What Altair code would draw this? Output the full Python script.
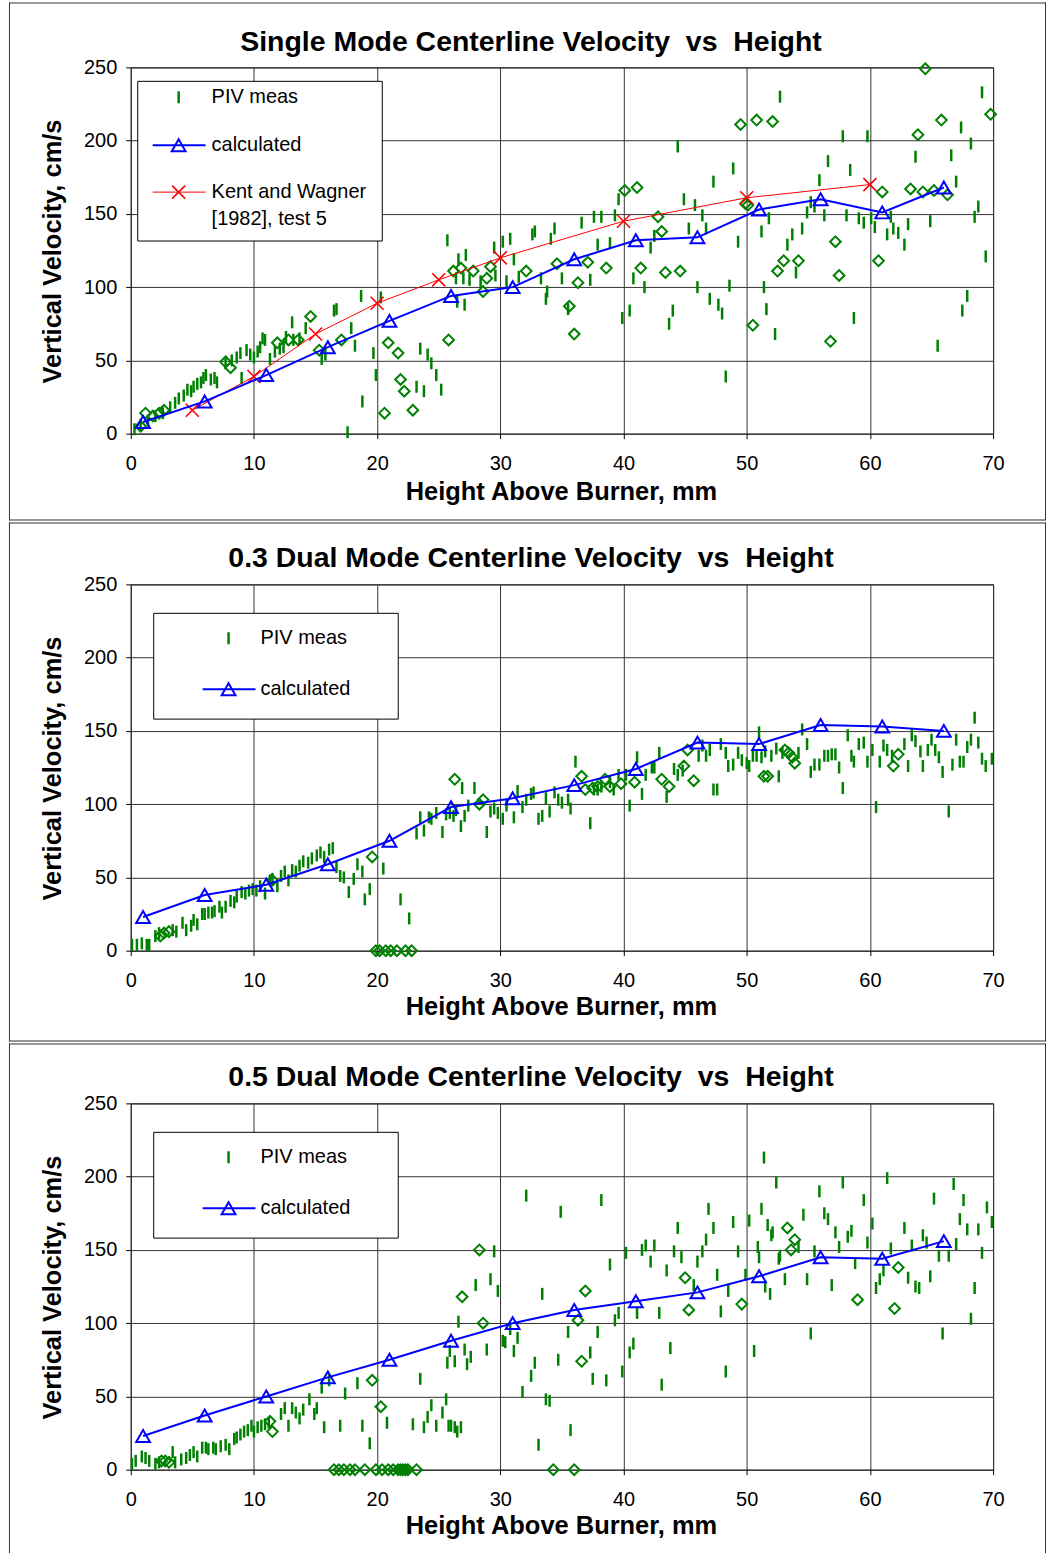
import altair as alt
import pandas as pd

FONT = "Liberation Sans"
GREEN = "#008000"
BLUE = "#0000FF"
RED = "#FF0000"

# ---------------- data ----------------
calc_x = [1, 6, 11, 16, 21, 26, 31, 36, 41, 46, 51, 56, 61, 66]
p1_calc_y = [8, 22, 40, 59, 77, 94, 100, 119, 132, 134, 153, 160, 151, 168]
p2_calc_y = [23, 38, 45, 59, 75, 98, 104, 113, 124, 142, 141, 154, 153, 150]
p3_calc_y = [23, 37, 50, 63, 75, 88, 100, 109, 115, 121, 132, 145, 144, 156]

kw_x = [5, 10, 15, 20, 25, 30, 40, 50, 60]
kw_y = [16, 39, 68, 89, 105, 120, 145, 161, 170]

# Panel 1 PIV measurements
p1_piv_x = [0.3, 0.8, 1.4, 2.0, 2.6, 3.2, 3.6,
            3.9, 4.3, 4.6, 4.9, 5.1, 5.4, 5.7, 5.9, 6.1, 6.5, 6.8, 7.0,
            7.7, 8.2, 8.6, 8.9, 9.0, 9.4, 9.7, 10.0, 10.3, 10.5, 10.7, 10.9,
            11.3, 11.7, 12.1, 12.4, 12.6, 13.1, 13.2, 13.7, 14.2,
            15.5, 15.8, 16.5, 16.7,
            17.6, 17.9, 18.2, 18.7, 18.8, 19.7, 19.9, 20.3, 23.2, 23.5,
            23.8, 24.1, 24.4, 24.8, 25.2, 25.7, 26.4, 26.5, 26.6, 27.0,
            27.1, 27.2, 27.5, 28.4, 29.5, 29.6, 30.2, 30.5, 30.8, 31.1,
            31.5, 32.6, 32.8, 33.3, 33.7, 33.8, 34.1, 34.4,
            35.0, 35.5, 36.6, 37.3, 37.6, 37.9, 38.2, 38.9, 39.3, 39.6,
            39.9, 40.5, 40.8, 41.7, 42.2, 42.5, 43.7, 44.0, 44.4, 44.9,
            45.3, 45.8, 46.0, 46.4, 46.7, 47.0, 47.3, 47.7, 48.0, 48.3,
            48.6, 48.9, 49.3, 51.2, 51.4, 51.6, 51.8,
            52.3, 52.7, 53.3, 53.7, 54.0, 54.5, 54.9, 55.2, 55.5, 55.9,
            56.3, 56.6, 57.8, 58.1, 58.4, 58.7, 59.1, 59.5, 59.8, 60.1,
            60.4, 61.4, 61.7, 61.9, 62.3, 62.8, 63.1, 63.7, 64.9, 65.5,
            66.6, 67.0, 67.4, 67.5, 67.9, 68.2, 68.5, 68.8, 69.1, 69.4]
p1_piv_y = [3, 6, 9, 12, 14, 18, 21,
            24, 26, 30, 29, 32, 34, 35, 38, 40, 37, 38, 35,
            48, 50, 52, 55, 38, 57, 54, 52, 56, 59, 65, 64,
            51, 56, 58, 59, 66, 76, 64, 65, 72,
            51, 54, 84, 85,
            1, 72, 60, 94, 22, 55, 40, 93, 32, 58,
            29, 54, 48, 40, 30, 132, 106, 90, 119, 106,
            88, 122, 105, 104, 127, 108, 131, 104, 133, 119,
            107, 136, 138, 106, 92, 97, 133, 140,
            106, 85, 144, 105, 148, 129, 148, 130, 149, 160,
            79, 84, 106, 100, 127, 135, 75, 84, 196, 160,
            140, 156, 100, 149, 140, 92, 172, 88, 82, 39,
            101, 181, 131, 138, 100, 85, 147,
            68, 230, 129, 136, 110, 140, 151, 158, 155, 173,
            149, 186, 203, 149, 180, 79, 147, 144, 203, 147,
            141, 136, 148, 140, 137, 129, 143, 189, 145, 60,
            190, 172, 209, 84, 94, 198, 148, 155, 233, 121]

p1_dia_x = [0.8, 1.2, 1.8, 2.3, 2.7, 7.7, 8.1, 11.9, 12.8, 13.6,
            14.6, 15.3, 17.1, 20.6, 20.9, 21.7, 21.9, 22.2, 22.9, 25.8,
            26.2, 26.8, 27.8, 28.6, 28.9, 29.2, 32.1, 34.6, 35.6, 36.0,
            36.3, 37.1, 38.6, 40.1, 41.1, 41.4, 42.8, 43.1, 43.4, 44.6,
            49.5, 49.9, 50.1, 50.5, 50.8, 52.1, 52.5, 53.0, 54.2, 56.8,
            57.2, 57.5, 60.7, 61.0, 63.3, 63.9, 64.3, 64.5, 65.2, 65.8,
            66.3, 69.8]
p1_dia_y = [5, 14, 12, 14, 16, 49, 45, 62, 64, 64,
            80, 57, 64, 14, 62, 55, 37, 29, 16, 64,
            111, 113, 111, 97, 106, 114, 111, 116, 87, 68,
            103, 117, 113, 166, 168, 113, 148, 138, 110, 111,
            211, 157, 156, 74, 214, 213, 111, 118, 118, 63,
            131, 108, 118, 165, 167, 204, 165, 249, 166, 214,
            163, 218]

# Panel 2 PIV measurements
p2_piv_x = [0.1, 0.5, 0.9, 1.3, 1.5, 2.0, 2.3, 3.4, 3.7, 4.2,
            4.5, 4.9, 5.1, 5.4, 5.8, 6.0, 6.3, 6.6, 6.8, 7.2,
            7.4, 7.7, 8.1, 8.4, 8.6, 9.0, 9.3, 9.6, 9.9, 10.2,
            10.5, 10.9, 11.3, 11.5, 11.9, 12.2, 12.5, 12.8, 13.1, 13.4,
            13.7, 14.0, 14.4, 14.7, 15.1, 15.4, 15.7, 16.1, 16.4, 16.7,
            17.0, 17.3,
            17.7, 18.1, 18.4, 18.8, 19.0, 19.4, 20.5, 21.9, 22.6, 23.2,
            23.5, 23.8, 24.2, 24.4, 24.8, 25.3, 25.6, 25.9, 26.2, 26.4,
            26.8, 26.9, 27.1, 27.4, 27.9, 28.9, 29.2, 29.5, 29.8, 30.2,
            30.5, 31.1, 31.4, 31.8, 32.1, 32.5, 32.7, 33.1, 33.4, 33.7,
            34.0, 34.4, 34.7,
            35.0, 35.5, 35.7, 36.1, 37.3, 37.6, 37.9, 38.2, 38.9, 39.2,
            39.6, 40.2, 40.5, 41.1, 41.5, 41.8, 42.3, 42.5, 42.9, 43.5,
            44.1, 44.4, 44.8, 46.1, 46.4, 46.7, 47.0, 47.3, 47.6, 47.9,
            48.3, 48.5, 48.9, 49.3, 49.6, 50.0, 50.2, 50.5, 50.8, 51.0,
            51.2, 51.5,
            52.0, 52.4, 52.6, 52.9, 54.2, 54.5, 54.9, 55.2, 55.5, 55.9,
            56.3, 56.6, 56.9, 57.2, 57.5, 57.8, 58.2, 58.5, 58.7, 59.1,
            59.5, 59.8, 60.2, 60.5, 60.8, 61.1, 61.4, 61.8, 62.8, 63.1,
            63.4, 63.7, 64.1, 64.3, 64.7, 65.0, 65.3, 65.6, 65.9, 66.4,
            66.7, 67.0, 67.3, 67.6, 67.9, 68.2, 68.5, 68.8, 69.1, 69.4,
            69.9]
p2_piv_y = [4, 4, 5, 4, 4, 10, 12, 14, 13, 19,
            14, 17, 21, 18, 25, 25, 26, 26, 27, 30,
            26, 30, 34, 33, 37, 40, 39, 41, 42, 41,
            44, 39, 48, 49, 44, 51, 54, 48, 55, 54,
            58, 61, 60, 63, 65, 67, 64, 69, 70, 57,
            51, 50,
            40, 49, 59, 54, 35, 42, 56, 35, 22, 80,
            91, 82, 91, 90, 94, 81, 93, 94, 92, 96,
            85, 111, 92, 99, 111, 81, 95, 97, 94, 90,
            99, 91, 109, 98, 103, 107, 108, 90, 92, 104,
            95, 108, 103,
            101, 103, 97, 129, 87, 110, 110, 112, 115, 110,
            120, 120, 99, 132, 107, 120, 125, 125, 135, 105,
            124, 120, 123, 133, 140, 133, 137, 110, 110, 141,
            135, 126, 127, 135, 130, 128, 126, 133, 133, 149,
            132, 136,
            133, 138, 119, 135, 135, 151, 141, 122, 127, 127,
            133, 133, 134, 134, 125, 111, 147, 133, 129, 141,
            142, 129, 137, 98, 129, 140, 137, 133, 141, 126,
            147, 143, 136, 126, 137, 144, 137, 132, 122, 95,
            127, 144, 129, 129, 139, 144, 159, 142, 131, 126,
            131]

p2_dia_x = [2.4, 2.7, 3.1, 11.5, 19.6, 19.9, 20.2, 20.7, 21.1, 21.6,
            22.3, 22.8, 26.3, 28.3, 28.6, 36.6, 36.9, 37.5, 37.9, 38.5,
            38.9, 39.8, 40.9, 43.1, 43.7, 44.9, 45.2, 45.7, 51.4, 51.7,
            53.1, 53.4, 53.7, 53.9, 61.9, 62.3]
p2_dia_y = [10, 12, 13, 48, 64, 0, 0, 0, 0, 0,
            0, 0, 117, 100, 103, 119, 110, 111, 112, 117,
            112, 114, 115, 117, 112, 126, 137, 116, 119, 119,
            137, 135, 132, 128, 126, 134]

# Panel 3 PIV measurements
p3_piv_x = [0.1, 0.4, 0.9, 1.2, 1.5, 2.0, 2.3, 3.4, 3.6, 4.1,
            4.5, 4.8, 5.1, 5.4, 5.8, 6.1, 6.3, 6.7, 6.9, 7.3,
            7.7, 8.0, 8.4, 8.6, 8.9, 9.2, 9.5, 9.8, 10.0, 10.3,
            10.6, 10.9, 11.2, 12.2, 12.5, 12.8, 13.1, 13.4, 13.7, 14.0,
            14.5, 14.9, 15.1, 15.5, 15.7, 16.1, 17.0, 17.4,
            18.4, 18.8, 19.4, 20.8, 22.9, 23.5, 23.8, 24.1, 24.4, 24.8,
            25.3, 25.6, 25.7, 25.8, 25.9, 26.0, 26.3, 26.3, 26.5, 26.6,
            26.8, 27.1, 27.3, 27.6, 28.0, 28.9, 29.2, 29.5, 29.8, 30.2,
            30.4, 30.8, 31.1, 31.4, 31.8, 32.1, 32.5, 32.8, 33.1, 33.4,
            33.7, 34.0, 34.7,
            34.9, 35.5, 35.7, 37.3, 37.5, 37.9, 38.2, 38.6, 38.9, 39.3,
            39.6, 39.9, 40.2, 40.5, 40.8, 41.1, 41.5, 41.8, 42.2, 42.5,
            42.9, 43.1, 43.5, 43.8, 44.1, 44.4, 44.7, 45.7, 46.0, 46.4,
            46.7, 46.9, 47.3, 47.6, 47.9, 48.3, 48.5, 48.9, 49.3, 49.9,
            50.2, 50.6, 50.9, 51.0, 51.2, 51.4, 51.5, 51.7,
            51.9, 52.0, 52.1, 52.4, 52.6, 52.7, 53.1, 54.2, 54.6, 54.9,
            55.2, 55.5, 55.9, 56.3, 56.6, 56.9, 57.2, 57.5, 57.8, 58.2,
            58.5, 58.8, 59.5, 59.8, 60.2, 60.5, 60.8, 61.1, 61.4, 61.7,
            62.8, 63.1, 63.4, 63.7, 64.0, 64.3, 64.6, 64.9, 65.2, 65.6,
            65.9, 66.4, 66.8, 67.0, 67.3, 67.6, 67.9, 68.2, 68.5, 68.8,
            69.1, 69.5, 69.9]
p3_piv_y = [4, 6, 9, 8, 6, 4, 5, 12, 5, 7,
            8, 10, 12, 9, 15, 15, 14, 15, 14, 16,
            17, 14, 21, 22, 24, 26, 27, 30, 26, 29,
            30, 31, 32, 38, 42, 30, 42, 39, 35, 41,
            48, 38, 42, 56, 29, 61, 30, 52,
            59, 30, 18, 32, 31, 62, 29, 36, 44, 30,
            39, 48, 73, 30, 81, 30, 29, 74, 26, 101,
            29, 82, 72, 77, 126, 82, 130, 149, 122, 88,
            87, 96, 81, 90, 53, 187, 64, 73, 17, 120,
            48, 47, 75,
            176, 94, 27, 80, 62, 94, 184, 61, 140, 102,
            107, 67, 148, 80, 86, 107, 150, 153, 142, 153,
            107, 58, 136, 83, 149, 165, 145, 126, 142, 149,
            157, 178, 165, 133, 108, 67, 122, 169, 149, 133,
            170, 81, 152, 145, 178, 213, 125, 167,
            120, 160, 162, 196, 144, 146, 130, 152, 174, 130,
            93, 149, 190, 175, 171, 126, 162, 152, 196, 159,
            163, 141, 184, 155, 168, 124, 130, 136, 199, 151,
            165, 131, 153, 125, 124, 160, 155, 132, 185, 146,
            93, 146, 195, 154, 171, 184, 164, 103, 124, 164,
            148, 179, 169]

p3_dia_x = [2.5, 2.8, 3.1, 11.3, 11.5, 16.5, 16.9, 17.3, 17.8, 18.2,
            19.0, 19.6, 19.9, 20.3, 20.4, 20.9, 21.3, 21.7, 21.9, 22.1,
            22.3, 22.5, 23.2, 26.9, 28.3, 28.6, 34.3, 36.0, 36.3, 36.6,
            36.9, 45.0, 45.3, 49.6, 53.3, 53.6, 53.9, 59.0, 62.0, 62.3]
p3_dia_y = [6, 6, 5, 33, 26, 0, 0, 0, 0, 0,
            0, 61, 0, 43, 0, 0, 0, 0, 0, 0,
            0, 0, 0, 118, 150, 100, 0, 0, 102, 74,
            122, 131, 109, 113, 165, 150, 157, 116, 110, 138]

titles = ["Single Mode Centerline Velocity\u00a0 vs\u00a0 Height",
          "0.3 Dual Mode Centerline Velocity\u00a0 vs\u00a0 Height",
          "0.5 Dual Mode Centerline Velocity\u00a0 vs\u00a0 Height"]
x_title = "Height Above Burner, mm"
y_title = "Vertical Velocity, cm/s"
x_ticks = [0, 10, 20, 30, 40, 50, 60, 70]
y_ticks = [0, 50, 100, 150, 200, 250]

# ---------------- chart ----------------
W, H = 864, 367
ONE = pd.DataFrame({"k": [0]})
XSHAPE = "M-1,-1L1,1M-1,1L1,-1"


def df(xs, ys):
    assert len(xs) == len(ys), (len(xs), len(ys))
    return pd.DataFrame({"x": xs, "y": ys})


def make_panel(title, title_y, xt_y, piv, dia, calc_y, kw, legend_box,
               frame_y, top_line):
    xs = alt.Scale(domain=[0, 70], nice=False, zero=False)
    ys = alt.Scale(domain=[0, 250], nice=False, zero=False)
    xa = alt.Axis(values=x_ticks, grid=True, gridColor="#333333", gridWidth=1,
                  domain=False, tickSize=5, tickColor="#000000",
                  labelFont=FONT, labelFontSize=20, labelColor="#000000",
                  labelPadding=15, labelFlush=False, labelOverlap=False,
                  title=x_title, titleFont=FONT, titleFontSize=25.5,
                  titleFontWeight="bold", titleColor="#000000",
                  titleX=431, titleY=xt_y, titleAlign="center",
                  titleBaseline="middle")
    ya = alt.Axis(values=y_ticks, grid=True, gridColor="#333333", gridWidth=1,
                  domain=False, tickSize=5, tickColor="#000000",
                  labelFont=FONT, labelFontSize=20, labelColor="#000000",
                  labelPadding=9, labelFlush=False, labelOverlap=False,
                  title=y_title, titleFont=FONT, titleFontSize=25.5,
                  titleFontWeight="bold", titleColor="#000000",
                  titleAngle=270, titleX=-78, titleY=184,
                  titleAlign="center", titleBaseline="middle")
    X = alt.X("x:Q", scale=xs, axis=xa)
    Y = alt.Y("y:Q", scale=ys, axis=ya)

    fy0, fy1 = frame_y
    layers = []
    # invisible rect giving the panel its exact extent
    layers.append(alt.Chart(ONE).mark_rect(fill="white", fillOpacity=0,
                                           strokeWidth=0).encode(
        x=alt.value(-122), x2=alt.value(917),
        y=alt.value(fy0), y2=alt.value(fy1)))
    # panel frame lines
    frame_lines = [(-121.5, -121.5, fy0, fy1), (916.5, 916.5, fy0, fy1),
                   (-121.5, 916.5, fy1 - 0.5, fy1 - 0.5)]
    if top_line:
        frame_lines.append((-121.5, 916.5, fy0 + 0.5, fy0 + 0.5))
    for x0, x1, y0, y1 in frame_lines:
        layers.append(alt.Chart(ONE).mark_rule(color="#333333", strokeWidth=1).encode(
            x=alt.value(x0), x2=alt.value(x1), y=alt.value(y0), y2=alt.value(y1)))
    # PIV ticks
    layers.append(alt.Chart(df(*piv)).mark_tick(
        orient="vertical", size=12, thickness=2.5, color=GREEN,
        opacity=1).encode(x=X, y=Y))
    # diamonds
    layers.append(alt.Chart(df(*dia)).mark_point(
        shape="diamond", filled=False, size=115, strokeWidth=2,
        color=GREEN, opacity=1).encode(x=X, y=Y))
    if kw is not None:
        kdf = df(*kw)
        layers.append(alt.Chart(kdf).mark_line(color=RED, strokeWidth=1).encode(x=X, y=Y))
        layers.append(alt.Chart(kdf).mark_point(
            shape=XSHAPE, filled=False, size=170,
            strokeWidth=1.6, color=RED, opacity=1).encode(x=X, y=Y))
    cdf = df(calc_x, calc_y)
    layers.append(alt.Chart(cdf).mark_line(color=BLUE, strokeWidth=2).encode(x=X, y=Y))
    layers.append(alt.Chart(cdf).mark_point(
        shape="triangle-up", filled=False, size=190, strokeWidth=2,
        color=BLUE, opacity=1).encode(x=X, y=Y))

    # legend
    bx0, bx1, by0, by1, sx, tx, rows = legend_box
    layers.append(alt.Chart(ONE).mark_rect(fill="white", stroke="black",
                                           strokeWidth=1).encode(
        x=alt.value(bx0), x2=alt.value(bx1), y=alt.value(by0), y2=alt.value(by1)))
    for kind, ry, texts in rows:
        if kind == "piv":
            layers.append(alt.Chart(ONE).mark_rule(color=GREEN, strokeWidth=2.5).encode(
                x=alt.value(sx), y=alt.value(ry - 6), y2=alt.value(ry + 6)))
        else:
            col = BLUE if kind == "calc" else RED
            sw = 2 if kind == "calc" else 1
            layers.append(alt.Chart(ONE).mark_rule(color=col, strokeWidth=sw).encode(
                x=alt.value(sx - 26), x2=alt.value(sx + 27), y=alt.value(ry)))
            if kind == "calc":
                layers.append(alt.Chart(ONE).mark_point(
                    shape="triangle-up", filled=False, size=190, strokeWidth=2,
                    color=BLUE, opacity=1).encode(x=alt.value(sx), y=alt.value(ry)))
            else:
                layers.append(alt.Chart(ONE).mark_point(
                    shape=XSHAPE, filled=False, size=170, strokeWidth=1.6,
                    color=RED, opacity=1).encode(x=alt.value(sx), y=alt.value(ry)))
        for i, t in enumerate(texts):
            layers.append(alt.Chart(ONE).mark_text(
                text=t, font=FONT, fontSize=20, color="black", align="left",
                baseline="middle").encode(x=alt.value(tx), y=alt.value(ry + 27 * i)))

    # title
    layers.append(alt.Chart(ONE).mark_text(
        text=title, font=FONT, fontSize=28.5, fontWeight="bold", color="black",
        align="center", baseline="middle").encode(x=alt.value(401), y=alt.value(title_y)))

    return alt.layer(*layers).properties(width=W, height=H)


leg1 = (7, 252, 14, 174, 48, 81,
        [("piv", 30, ["PIV meas"]),
         ("calc", 78, ["calculated"]),
         ("kw", 125, ["Kent and Wagner", "[1982], test 5"])])
leg23 = (23, 268, 29, 135, 98, 130,
         [("piv", 54, ["PIV meas"]),
          ("calc", 105, ["calculated"])])

p1 = make_panel(titles[0], -25, 58, (p1_piv_x, p1_piv_y), (p1_dia_x, p1_dia_y),
                p1_calc_y, (kw_x, kw_y), leg1, (-65, 454), True)
p2 = make_panel(titles[1], -26, 56, (p2_piv_x, p2_piv_y), (p2_dia_x, p2_dia_y),
                p2_calc_y, None, leg23, (-62, 458), True)
p3 = make_panel(titles[2], -26, 56, (p3_piv_x, p3_piv_y), (p3_dia_x, p3_dia_y),
                p3_calc_y, None, leg23, (-60, 455), True)

chart = alt.vconcat(p1, p2, p3, spacing=0).properties(
    padding={"left": 8, "top": 0, "right": 0, "bottom": 0},
    background="white",
).configure_view(stroke="black", strokeWidth=1)

chart.save("out.html", embed_options={"renderer": "svg", "actions": False})
